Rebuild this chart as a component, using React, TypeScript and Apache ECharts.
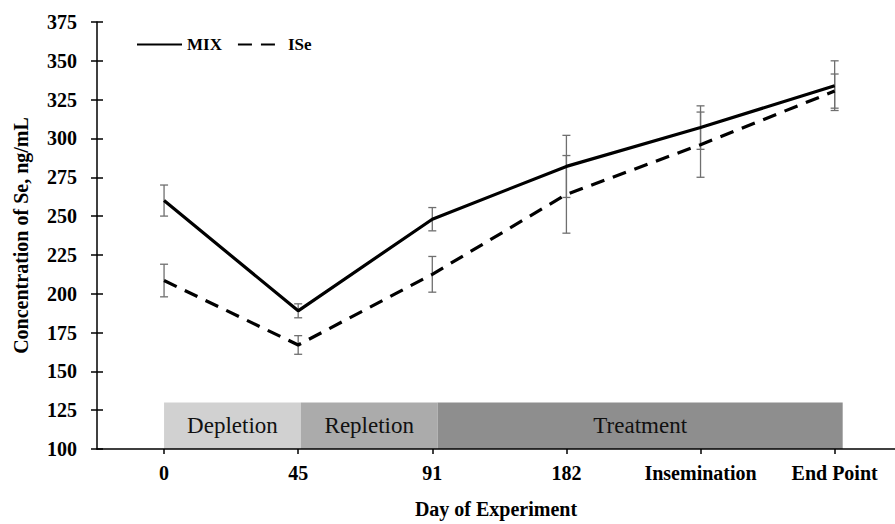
import React, { useEffect, useRef } from "react";
import * as echarts from "echarts";

const categories = ["0", "45", "91", "182", "Insemination", "End Point"];
const xPos = [0, 1, 2, 3, 4, 5];
const mixMean = [260, 189, 248, 282, 307, 334];
const mixErr = [10, 4.5, 7.5, 20, 14, 16];
const iseMean = [208.5, 167, 212.5, 264, 296, 330.5];
const iseErr = [10.5, 6, 11.5, 25, 21, 11];
const yTicks = { min: 100, max: 375, interval: 25 };
const phaseNames = ["Depletion", "Repletion", "Treatment"];
const phaseStart = [0, 1.02, 2.04];
const phaseEnd = [1.02, 2.04, 5.06];
const phaseTop = 130;
const phaseColors = ["#d1d1d1", "#ababab", "#8e8e8e"];

const FONT = "'Liberation Serif', 'Times New Roman', serif";

export default function App() {
  const ref = useRef<HTMLDivElement>(null);
  useEffect(() => {
    document.body.style.margin = "0";
    if (!ref.current) return;
    const chart = echarts.init(ref.current, undefined, { renderer: "svg" });
    const errData = (means: number[], errs: number[]) =>
      xPos.map((x, i) => [x, means[i], errs[i]]);
    const errSeries = (name: string, means: number[], errs: number[]) => ({
      type: "custom",
      name: name + "-err",
      data: errData(means, errs),
      encode: { x: 0, y: 1 },
      z: 1,
      silent: true,
      renderItem: (params: any, api: any) => {
        const x = api.value(0);
        const m = api.value(1);
        const e = api.value(2);
        const top = api.coord([x, m + e]);
        const bot = api.coord([x, m - e]);
        const hw = 4;
        const style = { stroke: "#6f6f6f", lineWidth: 1.3 };
        return {
          type: "group",
          children: [
            { type: "line", shape: { x1: top[0], y1: top[1], x2: bot[0], y2: bot[1] }, style },
            { type: "line", shape: { x1: top[0] - hw, y1: top[1], x2: top[0] + hw, y2: top[1] }, style },
            { type: "line", shape: { x1: bot[0] - hw, y1: bot[1], x2: bot[0] + hw, y2: bot[1] }, style },
          ],
        };
      },
    });
    chart.setOption({
      animation: false,
      backgroundColor: "#ffffff",
      grid: { left: 97, right: 0, top: 22, bottom: 71 },
      legend: {
        left: 131,
        top: 31,
        itemWidth: 45,
        itemHeight: 14,
        itemGap: 15,
        data: ["MIX", "ISe"],
        itemStyle: { opacity: 0 },
        textStyle: { fontFamily: FONT, fontWeight: "bold", fontSize: 17, color: "#000" },
      },
      xAxis: {
        type: "value",
        min: -0.5,
        max: 5.45,
        name: "Day of Experiment",
        nameLocation: "middle",
        nameGap: 50,
        nameTextStyle: { fontFamily: FONT, fontWeight: "bold", fontSize: 20, color: "#000" },
        splitLine: { show: false },
        axisLine: { onZero: false, lineStyle: { color: "#000", width: 1.5 } },
        axisTick: { customValues: xPos, length: 5, lineStyle: { color: "#000", width: 1.5 } },
        axisLabel: {
          customValues: xPos,
          margin: 14,
          fontFamily: FONT,
          fontWeight: "bold",
          fontSize: 20,
          color: "#000",
          formatter: (v: number) => categories[Math.round(v)] ?? "",
        },
      },
      yAxis: [
        {
          type: "value",
          min: yTicks.min,
          max: yTicks.max,
          interval: yTicks.interval,
          name: "Concentration of Se, ng/mL",
          nameLocation: "middle",
          nameGap: 66,
          nameTextStyle: { fontFamily: FONT, fontWeight: "bold", fontSize: 20, color: "#000" },
          splitLine: { show: false },
          axisLine: { show: true, onZero: false, lineStyle: { color: "#000", width: 1.5 } },
          axisTick: { show: true, length: 6, lineStyle: { color: "#000", width: 1.5 } },
          axisLabel: { margin: 20, fontFamily: FONT, fontWeight: "bold", fontSize: 20, color: "#000" },
        },
        {
          type: "value",
          position: "left",
          min: yTicks.min,
          max: yTicks.max,
          interval: yTicks.interval,
          splitLine: { show: false },
          axisLine: { show: false, onZero: false },
          axisTick: { show: true, inside: true, length: 6, lineStyle: { color: "#000", width: 1.5 } },
          axisLabel: { show: false },
        },
      ],
      series: [
        {
          type: "custom",
          name: "phases",
          z: 0,
          silent: true,
          data: phaseNames.map((n, i) => [phaseStart[i], phaseEnd[i], phaseTop, i]),
          encode: { x: [0, 1], y: 2 },
          renderItem: (params: any, api: any) => {
            const i = api.value(3);
            const p0 = api.coord([api.value(0), yTicks.min]);
            const p1 = api.coord([api.value(1), api.value(2)]);
            return {
              type: "group",
              children: [
                {
                  type: "rect",
                  shape: { x: p0[0], y: p1[1], width: p1[0] - p0[0], height: p0[1] - p1[1] },
                  style: { fill: phaseColors[i] },
                },
                {
                  type: "text",
                  x: (p0[0] + p1[0]) / 2,
                  y: (p0[1] + p1[1]) / 2,
                  style: {
                    text: phaseNames[i],
                    fontFamily: FONT,
                    fontWeight: "normal",
                    fontSize: 23,
                    fill: "#111",
                    align: "center",
                    verticalAlign: "middle",
                  },
                },
              ],
            };
          },
        },
        errSeries("MIX", mixMean, mixErr),
        errSeries("ISe", iseMean, iseErr),
        {
          type: "line",
          name: "MIX",
          data: xPos.map((x, i) => [x, mixMean[i]]),
          symbol: "none",
          z: 3,
          lineStyle: { color: "#000", width: 3.2, type: "solid" },
          itemStyle: { color: "#000" },
        },
        {
          type: "line",
          name: "ISe",
          data: xPos.map((x, i) => [x, iseMean[i]]),
          symbol: "none",
          z: 3,
          lineStyle: { color: "#000", width: 3.2, type: [14, 9] },
          itemStyle: { color: "#000" },
        },
      ],
    });
    return () => chart.dispose();
  }, []);
  return <div ref={ref} style={{ width: 895, height: 524 }} />;
}
